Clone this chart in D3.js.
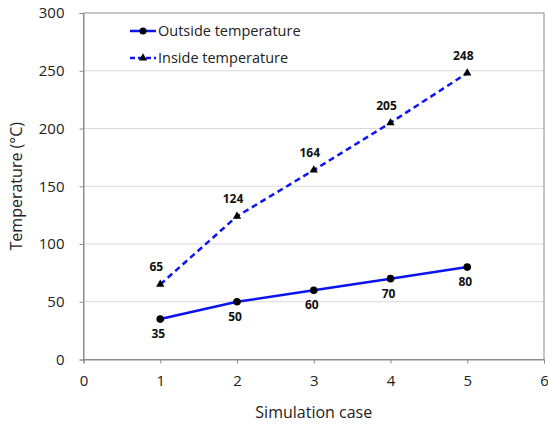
<!DOCTYPE html>
<html><head><meta charset="utf-8">
<script src="https://cdn.jsdelivr.net/npm/d3@7"></script>
<style>body{margin:0;background:#fff}svg{display:block}text{font-family:"Open Sans",sans-serif}</style>
</head><body>
<svg id="c" width="548" height="427"></svg>
<script>
const cases = [1, 2, 3, 4, 5];
const outside = [35, 50, 60, 70, 80];
const inside = [65, 124, 164, 205, 248];
const xTicks = [0, 1, 2, 3, 4, 5, 6];
const yTicks = [0, 50, 100, 150, 200, 250, 300];
const seriesNames = ["Outside temperature", "Inside temperature"];

const svg = d3.select("#c");
const L = 83.5, R = 544, T = 13, B = 359.5;
const x = d3.scaleLinear().domain([0, 6]).range([L, R]);
const y = d3.scaleLinear().domain([0, 300]).range([B, T]);

// gridlines
svg.append("g").selectAll("line").data(yTicks.filter(d => d > 0 && d < 300)).join("line")
  .attr("x1", L).attr("x2", R).attr("y1", d => y(d)).attr("y2", d => y(d))
  .attr("stroke", "#d9d9d9").attr("stroke-width", 1);

// border box
svg.append("rect").attr("x", L).attr("y", T).attr("width", R - L).attr("height", B - T)
  .attr("fill", "none").attr("stroke", "#8c8c8c").attr("stroke-width", 1);

const xa = svg.append("g").attr("transform", `translate(0,${B})`)
  .call(d3.axisBottom(x).tickValues(xTicks).tickSize(4).tickPadding(12).tickFormat(d3.format("d")));
const ya = svg.append("g").attr("transform", `translate(${L},0)`)
  .call(d3.axisLeft(y).tickValues(yTicks).tickSize(4).tickPadding(15).tickFormat(d3.format("d")));
[xa, ya].forEach(a => {
  a.select(".domain").attr("stroke", "#8c8c8c");
  a.selectAll(".tick line").attr("stroke", "#8c8c8c");
  a.selectAll("text").attr("font-size", 15).attr("fill", "#222").attr("font-family", "'Open Sans',sans-serif");
});

svg.append("text").attr("x", x(3)).attr("y", 418).attr("text-anchor", "middle")
  .attr("font-size", 16).attr("fill", "#222").text("Simulation case");
svg.append("text").attr("transform", `translate(22,${(T + B) / 2}) rotate(-90)`).attr("text-anchor", "middle")
  .attr("font-size", 16).attr("fill", "#222").text("Temperature (°C)");

const line = d3.line().x((d, i) => x(cases[i])).y(d => y(d));
svg.append("path").datum(outside).attr("d", line).attr("fill", "none")
  .attr("stroke", "#0a14f0").attr("stroke-width", 2.5);
svg.append("path").datum(inside).attr("d", line).attr("fill", "none")
  .attr("stroke", "#0a14f0").attr("stroke-width", 2.5).attr("stroke-dasharray", "6,4");

svg.append("g").selectAll("circle").data(outside).join("circle")
  .attr("cx", (d, i) => x(cases[i])).attr("cy", d => y(d)).attr("r", 3.8).attr("fill", "#000");
const tri = d3.symbol().type(d3.symbolTriangle).size(30);
svg.append("g").selectAll("path").data(inside).join("path")
  .attr("d", tri).attr("transform", (d, i) => `translate(${x(cases[i])},${y(d)})`).attr("fill", "#000");

svg.append("g").selectAll("text").data(outside).join("text")
  .attr("x", (d, i) => x(cases[i]) - 2).attr("y", d => y(d) + 19).attr("text-anchor", "middle")
  .attr("font-size", 12).attr("font-weight", "bold").attr("fill", "#111").text(d => d);
svg.append("g").selectAll("text").data(inside).join("text")
  .attr("x", (d, i) => x(cases[i]) - 4).attr("y", d => y(d) - 13).attr("text-anchor", "middle")
  .attr("font-size", 12).attr("font-weight", "bold").attr("fill", "#111").text(d => d);

// legend
const lg = svg.append("g");
[0, 1].forEach(k => {
  const ly = 31 + k * 27;
  lg.append("line").attr("x1", 130).attr("x2", 156).attr("y1", ly).attr("y2", ly)
    .attr("stroke", "#0a14f0").attr("stroke-width", 2.5).attr("stroke-dasharray", k ? "5,3" : null);
  if (k === 0) lg.append("circle").attr("cx", 143).attr("cy", ly).attr("r", 3.5).attr("fill", "#000");
  else lg.append("path").attr("d", tri).attr("transform", `translate(143,${ly})`).attr("fill", "#000");
  lg.append("text").attr("x", 158).attr("y", ly + 5).attr("font-size", 14.5).attr("fill", "#222").text(seriesNames[k]);
});
</script>
</body></html>
